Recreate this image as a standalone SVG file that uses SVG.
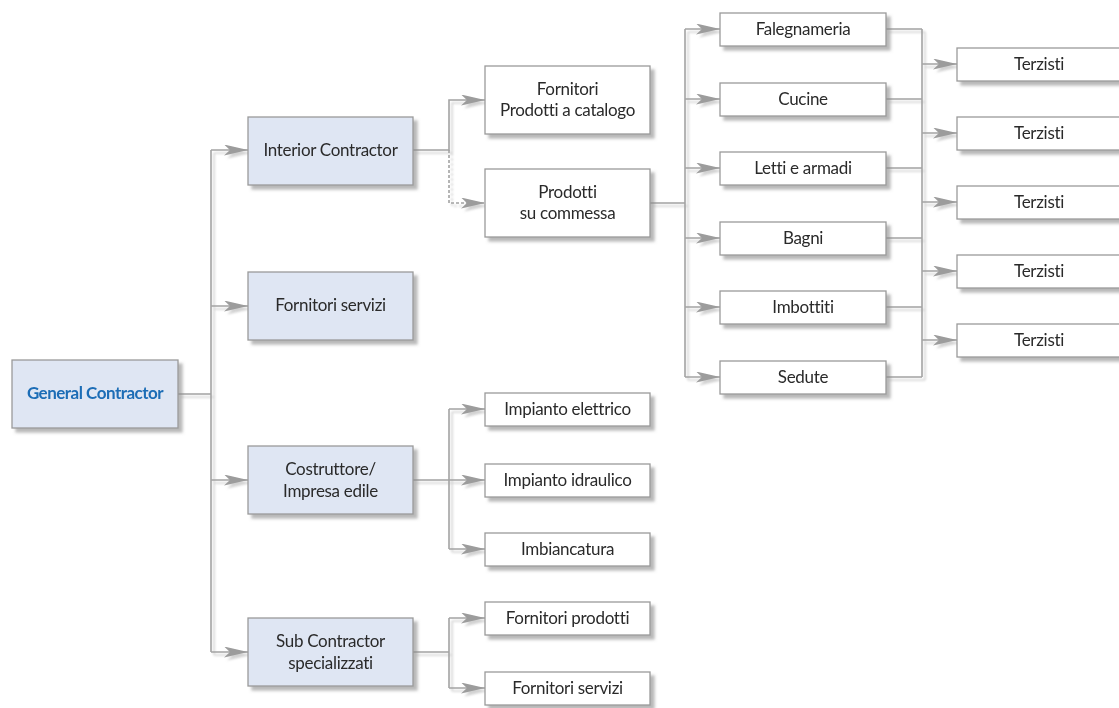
<svg xmlns="http://www.w3.org/2000/svg" width="1119" height="708" viewBox="0 0 1119 708">
<style>
.box{fill:#ffffff;stroke:#9a9a9a;stroke-width:1.3}
.blue{fill:#dfe6f3}
.t{font-family:Lato,"Noto Sans",sans-serif;font-size:17px;letter-spacing:-0.3px;font-variant-ligatures:none;fill:#2a2a2a;text-anchor:middle;dominant-baseline:central}
.gc{font-family:Lato,"Noto Sans",sans-serif;font-size:17px;letter-spacing:-0.5px;font-weight:bold;fill:#1d6db6;text-anchor:middle;dominant-baseline:central}
.ln{fill:none;stroke:#a3a3a3;stroke-width:1.6}
.ar{marker-end:url(#ah)}
.dash{stroke-dasharray:3 2}
</style>
<defs>
<filter id="sh" x="-10%" y="-20%" width="130%" height="160%">
<feGaussianBlur in="SourceAlpha" stdDeviation="1.8"/>
<feOffset dx="4" dy="4" result="b"/>
<feFlood flood-color="#8a8a8a" flood-opacity="0.6"/>
<feComposite in2="b" operator="in"/>
<feMerge><feMergeNode/><feMergeNode in="SourceGraphic"/></feMerge>
</filter>
<filter id="lsh" x="-5%" y="-5%" width="110%" height="110%">
<feGaussianBlur in="SourceAlpha" stdDeviation="1.2"/>
<feOffset dx="3" dy="3" result="b"/>
<feFlood flood-color="#9a9a9a" flood-opacity="0.45"/>
<feComposite in2="b" operator="in"/>
<feMerge><feMergeNode/><feMergeNode in="SourceGraphic"/></feMerge>
</filter>
<marker id="ah" markerUnits="userSpaceOnUse" markerWidth="26" markerHeight="12" refX="24" refY="5.5" orient="auto">
<path d="M0,0 L24,5.5 L0,11 L6,5.5 z" fill="#9c9c9c"/>
</marker>
</defs>
<g id="connectors" filter="url(#lsh)">
<path class="ln" d="M178,394 H211 M211,150 V652"/>
<path class="ln ar" d="M211,150 H248"/>
<path class="ln ar" d="M211,306 H248"/>
<path class="ln ar" d="M211,480 H248"/>
<path class="ln ar" d="M211,652 H248"/>
<path class="ln ar" d="M413,150 H449 V100 H485"/>
<path class="ln dash ar" d="M449,150 V203 H485"/>
<path class="ln" d="M650,203 H685 M685,29 V377"/>
<path class="ln ar" d="M685,29 H720"/>
<path class="ln ar" d="M685,99 H720"/>
<path class="ln ar" d="M685,168 H720"/>
<path class="ln ar" d="M685,238 H720"/>
<path class="ln ar" d="M685,307 H720"/>
<path class="ln ar" d="M685,377 H720"/>
<path class="ln" d="M886,29 H922 M886,99 H922 M886,168 H922 M886,238 H922 M886,307 H922 M886,377 H922 M922,29 V377"/>
<path class="ln ar" d="M922,64 H957"/>
<path class="ln ar" d="M922,133 H957"/>
<path class="ln ar" d="M922,202 H957"/>
<path class="ln ar" d="M922,271 H957"/>
<path class="ln ar" d="M922,340 H957"/>
<path class="ln" d="M413,480 H449 M449,409 V549"/>
<path class="ln ar" d="M449,409 H485"/>
<path class="ln ar" d="M449,480 H485"/>
<path class="ln ar" d="M449,549 H485"/>
<path class="ln" d="M413,652 H449 M449,618 V688"/>
<path class="ln ar" d="M449,618 H485"/>
<path class="ln ar" d="M449,688 H485"/>
</g>
<g id="general-contractor" filter="url(#sh)"><rect class="box blue" x="12" y="360" width="166" height="68"/><text class="gc" x="95" y="392.5">General Contractor</text></g>
<g id="interior-contractor" filter="url(#sh)"><rect class="box blue" x="248" y="117" width="165" height="68"/><text class="t" x="330.5" y="149.5">Interior Contractor</text></g>
<g id="fornitori-servizi-1" filter="url(#sh)"><rect class="box blue" x="248" y="272" width="165" height="68"/><text class="t" x="330.5" y="304.5">Fornitori servizi</text></g>
<g id="costruttore" filter="url(#sh)"><rect class="box blue" x="248" y="446" width="165" height="68"/><text class="t" x="330.5" y="468.5">Costruttore/</text><text class="t" x="330.5" y="490">Impresa edile</text></g>
<g id="sub-contractor" filter="url(#sh)"><rect class="box blue" x="248" y="618" width="165" height="68"/><text class="t" x="330.5" y="640.5">Sub Contractor</text><text class="t" x="330.5" y="662.5">specializzati</text></g>
<g id="fornitori-catalogo" filter="url(#sh)"><rect class="box" x="485" y="66" width="165" height="68"/><text class="t" x="567.5" y="88">Fornitori</text><text class="t" x="567.5" y="109">Prodotti a catalogo</text></g>
<g id="prodotti-commessa" filter="url(#sh)"><rect class="box" x="485" y="169" width="165" height="68"/><text class="t" x="567.5" y="191">Prodotti</text><text class="t" x="567.5" y="212">su commessa</text></g>
<g id="impianto-elettrico" filter="url(#sh)"><rect class="box" x="485" y="393" width="165" height="33"/><text class="t" x="567.5" y="408">Impianto elettrico</text></g>
<g id="impianto-idraulico" filter="url(#sh)"><rect class="box" x="485" y="464" width="165" height="33"/><text class="t" x="567.5" y="479">Impianto idraulico</text></g>
<g id="imbiancatura" filter="url(#sh)"><rect class="box" x="485" y="533" width="165" height="33"/><text class="t" x="567.5" y="548">Imbiancatura</text></g>
<g id="fornitori-prodotti" filter="url(#sh)"><rect class="box" x="485" y="602" width="165" height="33"/><text class="t" x="567.5" y="617">Fornitori prodotti</text></g>
<g id="fornitori-servizi-2" filter="url(#sh)"><rect class="box" x="485" y="672" width="165" height="33"/><text class="t" x="567.5" y="687">Fornitori servizi</text></g>
<g id="falegnameria" filter="url(#sh)"><rect class="box" x="720" y="13" width="166" height="33"/><text class="t" x="803" y="28">Falegnameria</text></g>
<g id="cucine" filter="url(#sh)"><rect class="box" x="720" y="83" width="166" height="33"/><text class="t" x="803" y="98">Cucine</text></g>
<g id="letti" filter="url(#sh)"><rect class="box" x="720" y="152" width="166" height="33"/><text class="t" x="803" y="167">Letti e armadi</text></g>
<g id="bagni" filter="url(#sh)"><rect class="box" x="720" y="222" width="166" height="33"/><text class="t" x="803" y="237">Bagni</text></g>
<g id="imbottiti" filter="url(#sh)"><rect class="box" x="720" y="291" width="166" height="33"/><text class="t" x="803" y="306">Imbottiti</text></g>
<g id="sedute" filter="url(#sh)"><rect class="box" x="720" y="361" width="166" height="33"/><text class="t" x="803" y="376">Sedute</text></g>
<g id="terzisti-1" filter="url(#sh)"><rect class="box" x="957" y="48" width="166" height="33"/><text class="t" x="1039" y="63">Terzisti</text></g>
<g id="terzisti-2" filter="url(#sh)"><rect class="box" x="957" y="117" width="166" height="33"/><text class="t" x="1039" y="132">Terzisti</text></g>
<g id="terzisti-3" filter="url(#sh)"><rect class="box" x="957" y="186" width="166" height="33"/><text class="t" x="1039" y="201">Terzisti</text></g>
<g id="terzisti-4" filter="url(#sh)"><rect class="box" x="957" y="255" width="166" height="33"/><text class="t" x="1039" y="270">Terzisti</text></g>
<g id="terzisti-5" filter="url(#sh)"><rect class="box" x="957" y="324" width="166" height="33"/><text class="t" x="1039" y="339">Terzisti</text></g>
</svg>
